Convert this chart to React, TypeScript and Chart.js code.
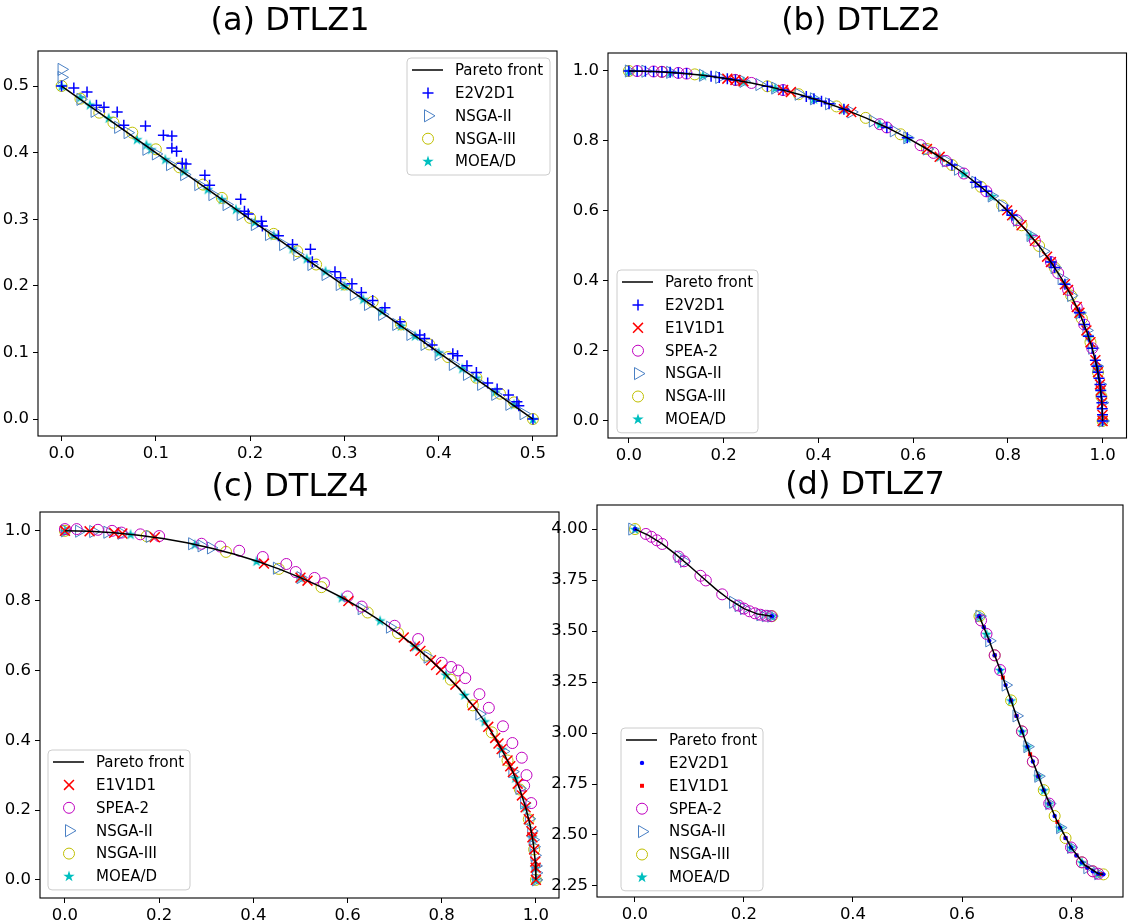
import React, { useEffect, useRef } from 'react';
import { Chart, registerables } from 'chart.js';

Chart.register(...registerables);

type P = [number, number];

// ---------------- (a) DTLZ1 ----------------
const A_FRONT: P[] = [[0, 0.5], [0.5, 0]];
const A_E2V2D1: P[] = [[0, 0.5], [0.013, 0.497], [0.027, 0.491], [0.037, 0.471], [0.045, 0.468], [0.059, 0.461], [0.066, 0.441], [0.089, 0.44], [0.108, 0.426], [0.117, 0.425], [0.117, 0.407], [0.122, 0.402], [0.128, 0.384], [0.132, 0.383], [0.152, 0.366], [0.157, 0.351], [0.19, 0.33], [0.194, 0.312], [0.198, 0.308], [0.212, 0.297], [0.213, 0.29], [0.23, 0.275], [0.245, 0.262], [0.264, 0.255], [0.266, 0.236], [0.29, 0.221], [0.296, 0.212], [0.308, 0.203], [0.318, 0.19], [0.33, 0.178], [0.343, 0.167], [0.359, 0.146], [0.38, 0.126], [0.385, 0.121], [0.393, 0.111], [0.415, 0.098], [0.42, 0.095], [0.43, 0.08], [0.44, 0.07], [0.452, 0.054], [0.462, 0.045], [0.474, 0.036], [0.483, 0.026], [0.485, 0.02], [0.5, 0]];
const A_NSGA2: P[] = [[0, 0.525], [0, 0.513], [0.02, 0.48], [0.035, 0.462], [0.06, 0.438], [0.07, 0.43], [0.09, 0.405], [0.1, 0.398], [0.115, 0.382], [0.13, 0.367], [0.145, 0.352], [0.16, 0.337], [0.175, 0.322], [0.19, 0.307], [0.205, 0.292], [0.22, 0.277], [0.235, 0.262], [0.25, 0.247], [0.265, 0.232], [0.28, 0.217], [0.295, 0.202], [0.31, 0.187], [0.325, 0.172], [0.34, 0.157], [0.355, 0.142], [0.37, 0.127], [0.385, 0.112], [0.4, 0.097], [0.415, 0.082], [0.43, 0.067], [0.445, 0.052], [0.46, 0.037], [0.475, 0.022], [0.49, 0.008]];
const A_NSGA3: P[] = [[0, 0.5], [0.02, 0.481], [0.04, 0.46], [0.055, 0.445], [0.075, 0.43], [0.1, 0.405], [0.125, 0.378], [0.15, 0.352], [0.17, 0.332], [0.2, 0.302], [0.225, 0.278], [0.25, 0.252], [0.27, 0.232], [0.3, 0.202], [0.33, 0.176], [0.36, 0.142], [0.39, 0.112], [0.41, 0.093], [0.44, 0.062], [0.465, 0.038], [0.48, 0.025], [0.5, 0]];
const A_MOEAD: P[] = [[0, 0.5], [0.02, 0.483], [0.03, 0.472], [0.05, 0.452], [0.08, 0.42], [0.09, 0.412], [0.095, 0.405], [0.11, 0.39], [0.13, 0.372], [0.155, 0.345], [0.17, 0.33], [0.185, 0.315], [0.205, 0.296], [0.225, 0.276], [0.245, 0.256], [0.26, 0.241], [0.28, 0.222], [0.3, 0.2], [0.32, 0.18], [0.34, 0.162], [0.36, 0.14], [0.375, 0.125], [0.4, 0.1], [0.425, 0.076], [0.44, 0.062], [0.46, 0.041], [0.48, 0.022], [0.5, 0]];
const A_X_TICKS = [0, 0.1, 0.2, 0.3, 0.4, 0.5];
const A_Y_TICKS = [0, 0.1, 0.2, 0.3, 0.4, 0.5];

// ---------------- (b) DTLZ2 ----------------
const CIRCLE_FRONT: P[] = [[0, 1], [0.0523, 0.9986], [0.1045, 0.9945], [0.1564, 0.9877], [0.2079, 0.9781], [0.2588, 0.9659], [0.309, 0.9511], [0.3584, 0.9336], [0.4067, 0.9135], [0.454, 0.891], [0.5, 0.866], [0.5446, 0.8387], [0.5878, 0.809], [0.6293, 0.7771], [0.6691, 0.7431], [0.7071, 0.7071], [0.7431, 0.6691], [0.7771, 0.6293], [0.809, 0.5878], [0.8387, 0.5446], [0.866, 0.5], [0.891, 0.454], [0.9135, 0.4067], [0.9336, 0.3584], [0.9511, 0.309], [0.9659, 0.2588], [0.9781, 0.2079], [0.9877, 0.1564], [0.9945, 0.1045], [0.9986, 0.0523], [1, 0]];
const B_E2V2D1: P[] = [[0, 1], [0.0175, 0.9998], [0.0349, 0.9994], [0.0523, 0.9986], [0.0698, 0.9976], [0.0872, 0.9962], [0.1045, 0.9945], [0.1219, 0.9925], [0.1736, 0.9848], [0.1908, 0.9816], [0.2079, 0.9781], [0.225, 0.9744], [0.2924, 0.9563], [0.3256, 0.9455], [0.3746, 0.9272], [0.3907, 0.9205], [0.4067, 0.9135], [0.4226, 0.9063], [0.454, 0.891], [0.5446, 0.8387], [0.5878, 0.809], [0.682, 0.7314], [0.7314, 0.682], [0.7431, 0.6691], [0.7547, 0.6561], [0.7986, 0.6018], [0.809, 0.5878], [0.891, 0.454], [0.8988, 0.4384], [0.9205, 0.3907], [0.9511, 0.309], [0.9613, 0.2756], [0.9703, 0.2419], [0.9781, 0.2079], [0.9848, 0.1736], [0.9877, 0.1564], [0.9903, 0.1392], [0.9925, 0.1219], [0.9945, 0.1045], [0.9962, 0.0872], [0.9976, 0.0698], [0.9986, 0.0523], [0.9994, 0.0349], [0.9998, 0.0175], [1, 0]];
const B_E1V1D1: P[] = [[0.2079, 0.9781], [0.225, 0.9744], [0.2419, 0.9703], [0.3256, 0.9455], [0.342, 0.9397], [0.454, 0.891], [0.4695, 0.8829], [0.6293, 0.7771], [0.6561, 0.7547], [0.7986, 0.6018], [0.809, 0.5878], [0.829, 0.5592], [0.8572, 0.515], [0.8829, 0.4695], [0.891, 0.454], [0.9205, 0.3907], [0.9272, 0.3746], [0.9455, 0.3256], [0.9511, 0.309], [0.9659, 0.2588], [0.9744, 0.225], [0.9848, 0.1736], [0.9903, 0.1392], [0.9945, 0.1045], [0.9962, 0.0872], [0.9986, 0.0523], [0.9998, 0.0175], [1, 0]];
const B_SPEA2: P[] = [[0.0175, 0.9998], [0.0523, 0.9986], [0.0698, 0.9976], [0.1045, 0.9945], [0.1219, 0.9925], [0.225, 0.9744], [0.2588, 0.9659], [0.3256, 0.9455], [0.5299, 0.848], [0.5446, 0.8387], [0.6157, 0.788], [0.6428, 0.766], [0.6691, 0.7431], [0.7071, 0.7071], [0.7547, 0.6561], [0.8192, 0.5736], [0.8572, 0.515], [0.891, 0.454], [0.9063, 0.4226], [0.9272, 0.3746], [0.9455, 0.3256], [0.9613, 0.2756], [0.9781, 0.2079]];
const B_NSGA2: P[] = [[0, 1], [0.0349, 0.9994], [0.0872, 0.9962], [0.1564, 0.9877], [0.1908, 0.9816], [0.2419, 0.9703], [0.2756, 0.9613], [0.309, 0.9511], [0.3584, 0.9336], [0.3907, 0.9205], [0.4226, 0.9063], [0.4695, 0.8829], [0.515, 0.8572], [0.5592, 0.829], [0.5878, 0.809], [0.6293, 0.7771], [0.6691, 0.7431], [0.6947, 0.7193], [0.7314, 0.682], [0.766, 0.6428], [0.788, 0.6157], [0.8192, 0.5736], [0.848, 0.5299], [0.8746, 0.4848], [0.8988, 0.4384], [0.9135, 0.4067], [0.9336, 0.3584], [0.9511, 0.309], [0.9659, 0.2588], [0.9781, 0.2079], [0.9877, 0.1564], [0.9945, 0.1045], [0.9986, 0.0523], [1, 0]];
const B_NSGA3: P[] = [[0, 1], [0.0698, 0.9976], [0.1392, 0.9903], [0.225, 0.9744], [0.2924, 0.9563], [0.3584, 0.9336], [0.4384, 0.8988], [0.5, 0.866], [0.5736, 0.8192], [0.6293, 0.7771], [0.682, 0.7314], [0.7431, 0.6691], [0.788, 0.6157], [0.829, 0.5592], [0.866, 0.5], [0.8988, 0.4384], [0.9336, 0.3584], [0.9563, 0.2924], [0.9744, 0.225], [0.9903, 0.1392], [0.9976, 0.0698], [1, 0]];
const B_MOEAD: P[] = [[0, 1], [0.0872, 0.9962], [0.1564, 0.9877], [0.2419, 0.9703], [0.309, 0.9511], [0.3907, 0.9205], [0.454, 0.891], [0.5299, 0.848], [0.5878, 0.809], [0.6561, 0.7547], [0.7071, 0.7071], [0.766, 0.6428], [0.809, 0.5878], [0.848, 0.5299], [0.891, 0.454], [0.9205, 0.3907], [0.9511, 0.309], [0.9703, 0.2419], [0.9877, 0.1564], [0.9962, 0.0872], [1, 0]];
const B_X_TICKS = [0, 0.2, 0.4, 0.6, 0.8, 1.0];
const B_Y_TICKS = [0, 0.2, 0.4, 0.6, 0.8, 1.0];

// ---------------- (c) DTLZ4 ----------------
const C_E1V1D1: P[] = [[0, 1], [0.0523, 0.9986], [0.1045, 0.9945], [0.1219, 0.9925], [0.1908, 0.9816], [0.4226, 0.9063], [0.5, 0.866], [0.515, 0.8572], [0.6018, 0.7986], [0.7193, 0.6947], [0.7431, 0.6691], [0.7547, 0.6561], [0.7771, 0.6293], [0.788, 0.6157], [0.7986, 0.6018], [0.829, 0.5592], [0.866, 0.5], [0.8988, 0.4384], [0.9135, 0.4067], [0.9205, 0.3907], [0.9272, 0.3746], [0.9397, 0.342], [0.9455, 0.3256], [0.9511, 0.309], [0.9613, 0.2756], [0.9703, 0.2419], [0.9781, 0.2079], [0.9848, 0.1736], [0.9903, 0.1392], [0.9925, 0.1219], [0.9962, 0.0872], [0.9986, 0.0523], [0.9994, 0.0349], [1, 0]];
const C_SPEA2: P[] = [[0, 1.005], [0.025, 1.005], [0.07, 1.003], [0.1, 1.0], [0.12, 0.995], [0.16, 0.99], [0.2, 0.985], [0.29, 0.963], [0.33, 0.955], [0.37, 0.943], [0.42, 0.925], [0.47, 0.905], [0.49, 0.882], [0.53, 0.865], [0.55, 0.85], [0.6, 0.812], [0.63, 0.783], [0.7, 0.728], [0.75, 0.69], [0.8, 0.622], [0.82, 0.61], [0.835, 0.6], [0.85, 0.578], [0.88, 0.532], [0.9, 0.493], [0.93, 0.44], [0.95, 0.392], [0.97, 0.35], [0.98, 0.3], [0.975, 0.27], [0.99, 0.22]];
const C_NSGA2: P[] = [[0, 1], [0.03, 0.999], [0.06, 0.998], [0.09, 0.996], [0.12, 0.993], [0.18, 0.984], [0.27, 0.963], [0.29, 0.957], [0.31, 0.951], [0.45, 0.893], [0.5, 0.866], [0.63, 0.777], [0.69, 0.724], [0.77, 0.638], [0.88, 0.475], [0.93, 0.368], [0.95, 0.31], [0.965, 0.262], [0.975, 0.22], [0.985, 0.175], [0.99, 0.14], [0.993, 0.115], [0.995, 0.095], [0.997, 0.07], [0.999, 0.04], [1.0, 0.02], [1, 0]];
const C_NSGA3: P[] = [[0, 1], [0.1736, 0.9848], [0.342, 0.9397], [0.454, 0.891], [0.5446, 0.8387], [0.6428, 0.766], [0.7071, 0.7071], [0.766, 0.6428], [0.8192, 0.5736], [0.866, 0.5], [0.9063, 0.4226], [0.9397, 0.342], [0.9659, 0.2588], [0.9848, 0.1736], [0.9962, 0.0872], [1, 0]];
const C_MOEAD: P[] = [[0, 1], [0.1392, 0.9903], [0.2756, 0.9613], [0.4067, 0.9135], [0.5, 0.866], [0.5878, 0.809], [0.6691, 0.7431], [0.7431, 0.6691], [0.809, 0.5878], [0.848, 0.5299], [0.891, 0.454], [0.9272, 0.3746], [0.9563, 0.2924], [0.9781, 0.2079], [0.9925, 0.1219], [0.9994, 0.0349], [1, 0]];

// ---------------- (d) DTLZ7 ----------------
const D_FRONT_1: P[] = [[0, 4.0], [0.025, 3.969], [0.05, 3.927], [0.075, 3.876], [0.1, 3.819], [0.125, 3.76], [0.15, 3.702], [0.175, 3.651], [0.2, 3.61], [0.225, 3.583], [0.2514, 3.573]];
const D_FRONT_2: P[] = [[0.6316, 3.573], [0.64, 3.519], [0.65, 3.452], [0.66, 3.381], [0.675, 3.272], [0.7, 3.084], [0.725, 2.896], [0.75, 2.72], [0.775, 2.564], [0.8, 2.439], [0.825, 2.353], [0.85, 2.31], [0.8594, 2.307]];
const D_E2V2D1: P[] = [[0, 4.0], [0.2514, 3.573], [0.6316, 3.573], [0.64, 3.519], [0.65, 3.452], [0.66, 3.381], [0.67, 3.309], [0.68, 3.235], [0.69, 3.16], [0.7, 3.084], [0.71, 3.008], [0.72, 2.933], [0.73, 2.86], [0.74, 2.788], [0.75, 2.72], [0.76, 2.654], [0.77, 2.593], [0.78, 2.536], [0.79, 2.485], [0.8, 2.439], [0.81, 2.4], [0.82, 2.366], [0.83, 2.34], [0.84, 2.322], [0.85, 2.31], [0.8594, 2.307]];
const D_E1V1D1: P[] = [[0.6316, 3.573], [0.64, 3.519], [0.66, 3.381], [0.675, 3.272], [0.69, 3.16], [0.7, 3.084], [0.725, 2.896], [0.74, 2.788], [0.76, 2.654], [0.775, 2.564], [0.79, 2.485], [0.81, 2.4], [0.83, 2.34], [0.855, 2.308]];
const D_SPEA2: P[] = [[0.02, 3.976], [0.03, 3.962], [0.04, 3.945], [0.05, 3.927], [0.08, 3.865], [0.09, 3.842], [0.12, 3.771], [0.13, 3.748], [0.16, 3.68], [0.19, 3.625], [0.2, 3.61], [0.21, 3.597], [0.22, 3.587], [0.23, 3.58], [0.24, 3.575], [0.25, 3.573], [0.635, 3.552], [0.645, 3.486], [0.66, 3.381], [0.67, 3.309], [0.71, 3.008], [0.73, 2.86], [0.76, 2.654], [0.8, 2.439], [0.82, 2.366], [0.84, 2.322], [0.85, 2.31]];
const D_NSGA2: P[] = [[-0.005, 4.0], [0.08, 3.865], [0.09, 3.842], [0.18, 3.641], [0.19, 3.625], [0.2, 3.61], [0.23, 3.58], [0.24, 3.575], [0.25, 3.573], [0.632, 3.573], [0.65, 3.452], [0.68, 3.235], [0.7, 3.084], [0.72, 2.933], [0.74, 2.788], [0.76, 2.654], [0.78, 2.536], [0.8, 2.439], [0.83, 2.34], [0.85, 2.31]];
const D_NSGA3: P[] = [[0, 4.0], [0.2514, 3.573], [0.632, 3.573], [0.66, 3.381], [0.69, 3.16], [0.71, 3.008], [0.73, 2.86], [0.75, 2.72], [0.77, 2.593], [0.79, 2.485], [0.82, 2.366], [0.84, 2.322], [0.8594, 2.307]];
const D_MOEAD: P[] = [[0, 4.0], [0.2514, 3.573], [0.632, 3.573], [0.645, 3.486], [0.67, 3.309], [0.69, 3.16], [0.71, 3.008], [0.72, 2.933], [0.74, 2.788], [0.75, 2.72], [0.76, 2.654], [0.78, 2.536], [0.8, 2.439], [0.82, 2.366], [0.85, 2.31]];
const D_X_TICKS = [0, 0.2, 0.4, 0.6, 0.8];
const D_Y_TICKS = [2.25, 2.5, 2.75, 3.0, 3.25, 3.5, 3.75, 4.0];

const LABELS: Record<string, string> = {
  front: 'Pareto front', e2: 'E2V2D1', e1: 'E1V1D1', spea: 'SPEA-2', nsga2: 'NSGA-II', nsga3: 'NSGA-III', moead: 'MOEA/D',
  e2dot: 'E2V2D1', e1sq: 'E1V1D1',
};

// ---------------- styling ----------------
const FONT = '"DejaVu Sans", "Liberation Sans", sans-serif';
const W = 1135;
const H = 924;
const YW = 50;
const XH = 26;

type Shape = 'plus' | 'x' | 'circle' | 'tri' | 'star' | 'dot' | 'square';
interface Style { shape: Shape; color: string; r: number; bw: number }
const STYLES: Record<string, Style> = {
  e2: { shape: 'plus', color: '#0000ff', r: 5.5, bw: 1.5 },
  e1: { shape: 'x', color: '#ff0000', r: 7, bw: 1.5 },
  spea: { shape: 'circle', color: '#bf00bf', r: 5.5, bw: 1 },
  nsga2: { shape: 'tri', color: '#4a80c4', r: 7, bw: 1 },
  nsga3: { shape: 'circle', color: '#bfbf00', r: 5.5, bw: 1 },
  moead: { shape: 'star', color: '#00bfbf', r: 6, bw: 0 },
  e2dot: { shape: 'dot', color: '#0000ff', r: 2.2, bw: 0 },
  e1sq: { shape: 'square', color: '#ff0000', r: 2.8, bw: 0 },
};
const ORDER: Record<string, number> = { e2: 1, e2dot: 1, e1: 2, e1sq: 2, spea: 3, nsga2: 4, nsga3: 5, moead: 6 };

function starPath(ctx: CanvasRenderingContext2D, cx: number, cy: number, r: number) {
  const ri = r * 0.382;
  ctx.beginPath();
  for (let i = 0; i < 10; i++) {
    const a = -Math.PI / 2 + (i * Math.PI) / 5;
    const rr = i % 2 === 0 ? r : ri;
    const px = cx + rr * Math.cos(a);
    const py = cy + rr * Math.sin(a);
    if (i === 0) ctx.moveTo(px, py); else ctx.lineTo(px, py);
  }
  ctx.closePath();
}

function makeStar(color: string, r: number): HTMLCanvasElement {
  const s = Math.ceil(r * 2 + 2);
  const c = document.createElement('canvas');
  c.width = s; c.height = s;
  const ctx = c.getContext('2d')!;
  starPath(ctx, s / 2, s / 2 + 0.5, r);
  ctx.fillStyle = color;
  ctx.fill();
  return c;
}

function drawMarker(ctx: CanvasRenderingContext2D, st: Style, x: number, y: number) {
  ctx.save();
  ctx.strokeStyle = st.color;
  ctx.fillStyle = st.color;
  ctx.lineWidth = st.bw;
  const r = st.r;
  ctx.beginPath();
  switch (st.shape) {
    case 'plus':
      ctx.moveTo(x - r, y); ctx.lineTo(x + r, y); ctx.moveTo(x, y - r); ctx.lineTo(x, y + r); ctx.stroke();
      break;
    case 'x': {
      const d = r * Math.SQRT1_2;
      ctx.moveTo(x - d, y - d); ctx.lineTo(x + d, y + d); ctx.moveTo(x - d, y + d); ctx.lineTo(x + d, y - d); ctx.stroke();
      break;
    }
    case 'circle':
      ctx.arc(x, y, r, 0, Math.PI * 2); ctx.stroke();
      break;
    case 'tri':
      ctx.moveTo(x + r, y); ctx.lineTo(x - r / 2, y - r * 0.866); ctx.lineTo(x - r / 2, y + r * 0.866); ctx.closePath(); ctx.stroke();
      break;
    case 'star':
      starPath(ctx, x, y, r); ctx.fill();
      break;
    case 'dot':
      ctx.arc(x, y, r, 0, Math.PI * 2); ctx.fill();
      break;
    case 'square': {
      const s = r * Math.SQRT1_2;
      ctx.fillRect(x - s, y - s, 2 * s, 2 * s);
      break;
    }
  }
  ctx.restore();
}

interface Panel {
  box: [number, number, number, number];
  xr: [number, number];
  yr: [number, number];
  xTicks: number[];
  yTicks: number[];
  xDec: number;
  yDec: number;
  title: string;
  titlePos: [number, number];
  fronts: P[][];
  series: [string, P[]][];
  legendPos: [number, number];
  legendW: number;
}

const PANELS: Panel[] = [
  {
    box: [38, 51, 557, 436], xr: [-0.025, 0.5255], yr: [-0.0255, 0.5526],
    xTicks: A_X_TICKS, yTicks: A_Y_TICKS, xDec: 1, yDec: 1,
    title: '(a) DTLZ1', titlePos: [290, 22],
    fronts: [A_FRONT],
    series: [['e2', A_E2V2D1], ['nsga2', A_NSGA2], ['nsga3', A_NSGA3], ['moead', A_MOEAD]],
    legendPos: [407, 58], legendW: 143,
  },
  {
    box: [608, 53, 1128, 438], xr: [-0.044, 1.0505], yr: [-0.0486, 1.0514],
    xTicks: B_X_TICKS, yTicks: B_Y_TICKS, xDec: 1, yDec: 1,
    title: '(b) DTLZ2', titlePos: [861, 22],
    fronts: [CIRCLE_FRONT],
    series: [['e2', B_E2V2D1], ['e1', B_E1V1D1], ['spea', B_SPEA2], ['nsga2', B_NSGA2], ['nsga3', B_NSGA3], ['moead', B_MOEAD]],
    legendPos: [617, 270], legendW: 141,
  },
  {
    box: [40, 512, 559, 898], xr: [-0.053, 1.049], yr: [-0.052, 1.054],
    xTicks: B_X_TICKS, yTicks: B_Y_TICKS, xDec: 1, yDec: 1,
    title: '(c) DTLZ4', titlePos: [290, 488],
    fronts: [CIRCLE_FRONT],
    series: [['e1', C_E1V1D1], ['spea', C_SPEA2], ['nsga2', C_NSGA2], ['nsga3', C_NSGA3], ['moead', C_MOEAD]],
    legendPos: [48, 750], legendW: 142,
  },
  {
    box: [597, 505, 1123, 897], xr: [-0.0697, 0.8954], yr: [2.196, 4.118],
    xTicks: D_X_TICKS, yTicks: D_Y_TICKS, xDec: 1, yDec: 2,
    title: '(d) DTLZ7', titlePos: [865, 486],
    fronts: [D_FRONT_1, D_FRONT_2],
    series: [['e2dot', D_E2V2D1], ['e1sq', D_E1V1D1], ['spea', D_SPEA2], ['nsga2', D_NSGA2], ['nsga3', D_NSGA3], ['moead', D_MOEAD]],
    legendPos: [621, 728], legendW: 142,
  },
];

function buildChart(canvas: HTMLCanvasElement, p: Panel, star: HTMLCanvasElement): Chart {
  const datasets: any[] = [];
  const frontData: any[] = [];
  p.fronts.forEach((seg, i) => {
    if (i > 0) frontData.push({ x: (seg[0][0] + frontData[frontData.length - 1].x) / 2, y: null });
    seg.forEach(([x, y]) => frontData.push({ x, y }));
  });
  datasets.push({
    label: 'Pareto front', data: frontData, showLine: true, spanGaps: false,
    borderColor: '#000000', borderWidth: 1.5, pointRadius: 0, order: 0, fill: false,
  });
  p.series.forEach(([key, pts]) => {
    const st = STYLES[key];
    const base: any = {
      label: LABELS[key], data: pts.map(([x, y]) => ({ x, y })), order: ORDER[key], showLine: false,
    };
    if (st.shape === 'star') {
      Object.assign(base, { pointStyle: star, pointRadius: st.r, borderColor: st.color, backgroundColor: st.color });
    } else {
      const ps = st.shape === 'plus' ? 'cross' : st.shape === 'x' ? 'crossRot' : st.shape === 'tri' ? 'triangle'
        : st.shape === 'square' ? 'rect' : 'circle';
      const filled = st.shape === 'dot' || st.shape === 'square';
      Object.assign(base, {
        pointStyle: ps, pointRadius: st.r, pointRotation: st.shape === 'tri' ? 90 : 0,
        pointBorderWidth: filled ? 0 : st.bw, borderColor: st.color, pointBorderColor: st.color,
        pointBackgroundColor: filled ? st.color : 'rgba(0,0,0,0)', backgroundColor: filled ? st.color : 'rgba(0,0,0,0)',
      });
    }
    datasets.push(base);
  });

  const [l, t, r, b] = p.box;
  const tickFont = { family: FONT, size: 16.5 };
  const gridCfg = { display: true, drawOnChartArea: false, drawTicks: true, tickLength: 5, color: '#000000', lineWidth: 1 };

  const decor = {
    id: 'decor' + p.title,
    afterDatasetsDraw(chart: any) {
      const ctx: CanvasRenderingContext2D = chart.ctx;
      const a = chart.chartArea;
      ctx.save();
      ctx.strokeStyle = '#000000';
      ctx.lineWidth = 1.1;
      ctx.strokeRect(a.left, a.top, a.right - a.left, a.bottom - a.top);
      ctx.restore();
    },
    afterDraw(chart: any) {
      const ctx: CanvasRenderingContext2D = chart.ctx;
      ctx.save();
      // title
      ctx.fillStyle = '#000000';
      ctx.font = `32px ${FONT}`;
      ctx.textAlign = 'center';
      ctx.textBaseline = 'middle';
      ctx.fillText(p.title, p.titlePos[0], p.titlePos[1]);
      // legend
      const keys = ['front', ...p.series.map((s) => s[0])];
      const [lx, ly] = p.legendPos;
      const rowH = 22.9;
      const lh = keys.length * rowH + 2.5;
      const lw = p.legendW;
      ctx.beginPath();
      const rad = 4;
      ctx.moveTo(lx + rad, ly);
      ctx.lineTo(lx + lw - rad, ly);
      ctx.arcTo(lx + lw, ly, lx + lw, ly + rad, rad);
      ctx.lineTo(lx + lw, ly + lh - rad);
      ctx.arcTo(lx + lw, ly + lh, lx + lw - rad, ly + lh, rad);
      ctx.lineTo(lx + rad, ly + lh);
      ctx.arcTo(lx, ly + lh, lx, ly + lh - rad, rad);
      ctx.lineTo(lx, ly + rad);
      ctx.arcTo(lx, ly, lx + rad, ly, rad);
      ctx.closePath();
      ctx.fillStyle = 'rgba(255,255,255,0.8)';
      ctx.fill();
      ctx.strokeStyle = '#cccccc';
      ctx.lineWidth = 1;
      ctx.stroke();
      keys.forEach((k, i) => {
        const cy = ly + 12 + i * rowH;
        if (k === 'front') {
          ctx.beginPath();
          ctx.strokeStyle = '#000000';
          ctx.lineWidth = 1.5;
          ctx.moveTo(lx + 5, cy);
          ctx.lineTo(lx + 36, cy);
          ctx.stroke();
        } else {
          drawMarker(ctx, STYLES[k], lx + 21, cy);
        }
        ctx.fillStyle = '#000000';
        ctx.font = `15px ${FONT}`;
        ctx.textAlign = 'left';
        ctx.textBaseline = 'middle';
        ctx.fillText(LABELS[k], lx + 48, cy + 1);
      });
      ctx.restore();
    },
  };

  return new Chart(canvas, {
    type: 'scatter',
    data: { datasets },
    options: {
      responsive: false,
      animation: false,
      events: [],
      layout: { padding: { left: l - YW, top: t, right: W - r, bottom: Math.max(0, H - b - XH) } },
      plugins: { legend: { display: false }, tooltip: { enabled: false }, title: { display: false } },
      scales: {
        x: {
          type: 'linear', min: p.xr[0], max: p.xr[1],
          afterBuildTicks: (s: any) => { s.ticks = p.xTicks.map((v) => ({ value: v })); },
          afterFit: (s: any) => { s.height = XH; },
          ticks: { autoSkip: false, maxRotation: 0, padding: 3, font: tickFont, color: '#000000', callback: (v: any) => Number(v).toFixed(p.xDec) },
          grid: gridCfg, border: { display: false },
        },
        y: {
          type: 'linear', min: p.yr[0], max: p.yr[1],
          afterBuildTicks: (s: any) => { s.ticks = p.yTicks.map((v) => ({ value: v })); },
          afterFit: (s: any) => { s.width = YW; },
          ticks: { autoSkip: false, padding: 4, font: tickFont, color: '#000000', callback: (v: any) => Number(v).toFixed(p.yDec) },
          grid: gridCfg, border: { display: false },
        },
      },
    } as any,
    plugins: [decor],
  });
}

export default function App() {
  const refs = [useRef<HTMLCanvasElement>(null), useRef<HTMLCanvasElement>(null), useRef<HTMLCanvasElement>(null), useRef<HTMLCanvasElement>(null)];
  useEffect(() => {
    const star = makeStar(STYLES.moead.color, STYLES.moead.r);
    const charts = PANELS.map((p, i) => buildChart(refs[i].current!, p, star));
    return () => charts.forEach((c) => c.destroy());
  }, []);
  return (
    <div style={{ position: 'absolute', left: 0, top: 0, width: W, height: H, background: '#ffffff', overflow: 'hidden' }}>
      {PANELS.map((p, i) => (
        <canvas key={i} ref={refs[i]} width={W} height={H}
          style={{ position: 'absolute', left: 0, top: 0, width: W, height: H }} />
      ))}
    </div>
  );
}
